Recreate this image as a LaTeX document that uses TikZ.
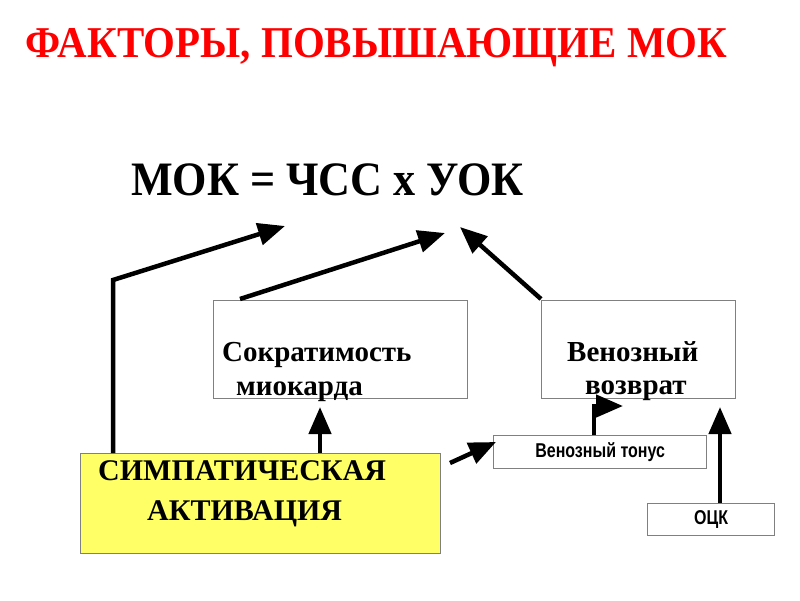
\documentclass[tikz,border=0pt]{standalone}
\usepackage{fontspec}
\setmainfont{Liberation Serif}
\newfontfamily\narrowsans{Liberation Sans}
\usetikzlibrary{arrows.meta}
\definecolor{boxgray}{HTML}{808080}
\definecolor{symyellow}{HTML}{FFFF66}
\tikzset{
  box/.style={draw=boxgray, line width=1.3pt, rectangle, inner sep=0pt, anchor=north west},
  txt/.style={inner sep=0pt, anchor=base west, font=\bfseries\fontsize{29}{29}\selectfont},
  arr/.style={line width=4.5pt, -{Triangle[length=27pt,width=22pt]}},
}
\begin{document}
\begin{tikzpicture}[x=1pt,y=-1pt]
\useasboundingbox (0,0) rectangle (800,600);
% title
\node[inner sep=0pt, anchor=base west, text=red, font=\bfseries\fontsize{44}{44}\selectfont] (title) at (25,57) {\scalebox{0.93}[1]{ФАКТОРЫ, ПОВЫШАЮЩИЕ МОК}};
% formula
\node[inner sep=0pt, anchor=base west, font=\bfseries\fontsize{48}{48}\selectfont] (formula) at (131,195) {\scalebox{0.92}[1]{МОК = ЧСС х УОК}};
% boxes
\node[box, minimum width=254pt, minimum height=98pt] (sokr) at (213,300) {};
\node[box, minimum width=194pt, minimum height=98pt] (ven) at (541,300) {};
\node[box, minimum width=213pt, minimum height=33pt] (tonus) at (493,435) {};
\node[box, minimum width=127pt, minimum height=32pt] (ock) at (647,503) {};
\node[box, fill=symyellow, minimum width=360pt, minimum height=100pt] (sym) at (80,453) {};
% texts
\node[txt] (t1) at (222,361) {Сократимость};
\node[txt] (t2) at (236,395) {миокарда};
\node[txt] (t3) at (567,361) {Венозный};
\node[txt] (t4) at (585,394) {возврат};
\node[txt, font=\bfseries\fontsize{30}{30}\selectfont] (t5) at (98,480) {СИМПАТИЧЕСКАЯ};
\node[txt, font=\bfseries\fontsize{30}{30}\selectfont] (t6) at (147,520) {АКТИВАЦИЯ};
\node[inner sep=0pt, font=\narrowsans\bfseries\fontsize{20}{20}\selectfont] (t7) at (tonus.center) {\scalebox{0.8}[1]{Венозный тонус}};
\node[inner sep=0pt, font=\narrowsans\bfseries\fontsize{20}{20}\selectfont] (t8) at (ock.center) {\scalebox{0.8}[1]{ОЦК}};
% arrow end points
\coordinate (e1) at (285,226);
\coordinate (e2) at (445,233);
\coordinate (e3) at (460,227);
\coordinate (e4) at (320,407);
\coordinate (e5) at (496,442);
\coordinate (e6) at (623,406);
\coordinate (e7) at (720,407);
\coordinate (s1) at (113,280);
% connectors
\draw[arr] (sym.north west -| 113,0) -- (s1) -- (e1);
\draw[arr] (sokr.north west -| 240,0) ++(0,-1) -- (e2);
\draw[arr] (ven.north west) ++(0,-1) -- (e3);
\draw[arr] (sym.north west -| 320,0) -- (e4);
\draw[arr] (450,463) -- (e5);
\draw[arr] (tonus.north west -| 594,0) |- (e6);
\draw[arr] (ock.north west -| 720,0) -- (e7);
\end{tikzpicture}
\end{document}
